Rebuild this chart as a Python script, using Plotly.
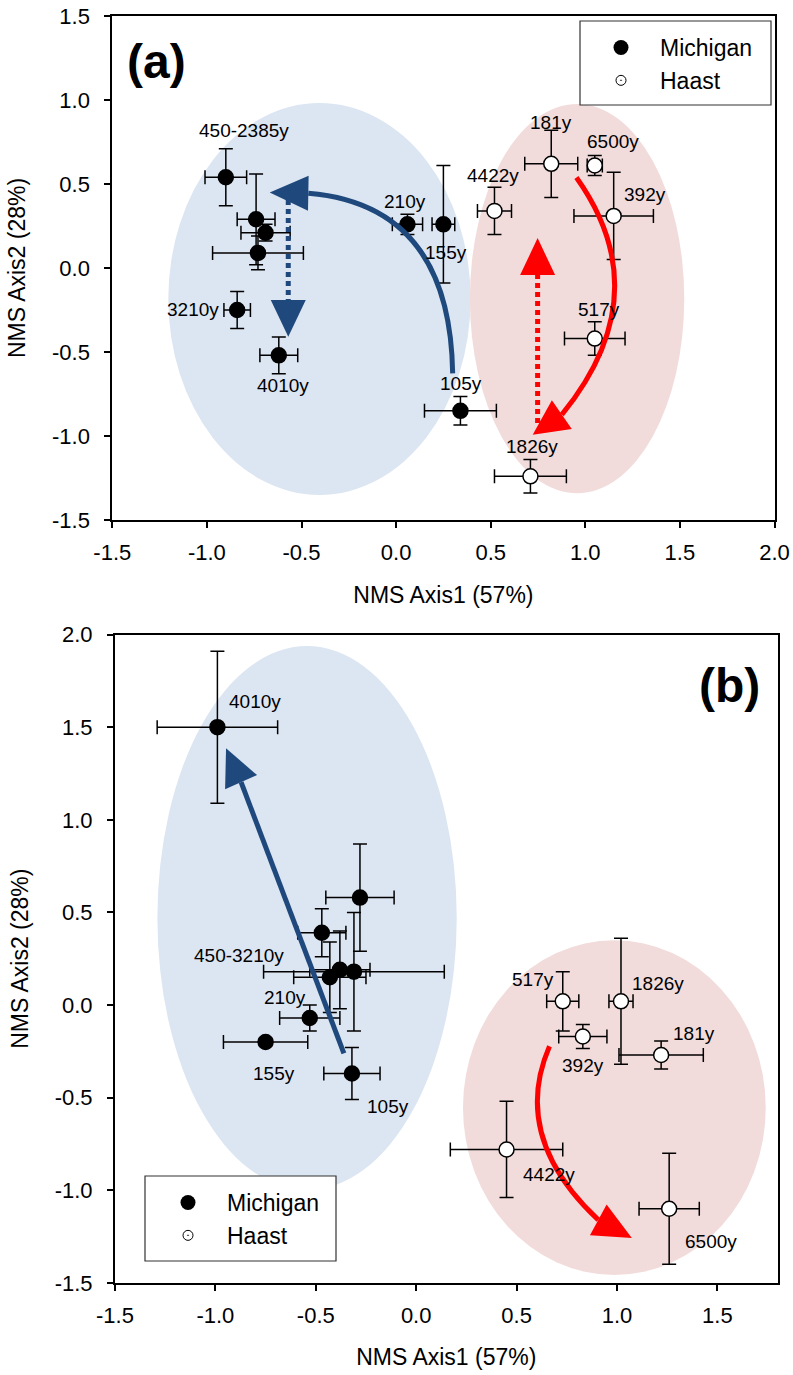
import math
import plotly.graph_objects as go

W, H = 793, 1375
FONT = "Arial, 'Liberation Sans', sans-serif"

# ---------------- DATA ----------------
# Panel (a)
mi_a_x = [-0.90, -0.74, -0.69, -0.73, -0.84, -0.62, 0.06, 0.25, 0.34]
mi_a_y = [0.54, 0.29, 0.21, 0.09, -0.25, -0.52, 0.26, 0.26, -0.85]
mi_a_xerr = [0.11, 0.10, 0.13, 0.24, 0.07, 0.10, 0.08, 0.06, 0.19]
mi_a_yerr = [0.17, 0.27, 0.05, 0.10, 0.11, 0.11, 0.06, 0.35, 0.085]
mi_a_lab = ["450-2385y", "", "", "", "3210y", "4010y", "210y", "155y", "105y"]

ha_a_x = [0.52, 0.82, 1.05, 1.15, 1.05, 0.71]
ha_a_y = [0.34, 0.62, 0.61, 0.31, -0.42, -1.24]
ha_a_xerr = [0.09, 0.14, 0.04, 0.21, 0.16, 0.19]
ha_a_yerr = [0.14, 0.20, 0.06, 0.26, 0.10, 0.10]
ha_a_lab = ["4422y", "181y", "6500y", "392y", "517y", "1826y"]

# Panel (b)
mi_b_x = [-0.99, -0.28, -0.47, -0.43, -0.38, -0.31, -0.53, -0.75, -0.32]
mi_b_y = [1.50, 0.58, 0.39, 0.15, 0.19, 0.18, -0.07, -0.20, -0.37]
mi_b_xerr = [0.30, 0.17, 0.12, 0.18, 0.15, 0.45, 0.15, 0.21, 0.14]
mi_b_yerr = [0.41, 0.29, 0.13, 0.19, 0.21, 0.32, 0.07, 0.02, 0.14]
mi_b_lab = ["4010y", "", "", "450-3210y", "", "", "210y", "155y", "105y"]

ha_b_x = [0.73, 0.83, 1.02, 1.22, 0.45, 1.26]
ha_b_y = [0.02, -0.17, 0.02, -0.27, -0.78, -1.10]
ha_b_xerr = [0.08, 0.12, 0.06, 0.21, 0.28, 0.15]
ha_b_yerr = [0.16, 0.065, 0.34, 0.075, 0.26, 0.30]
ha_b_lab = ["517y", "392y", "1826y", "181y", "4422y", "6500y"]

x_ticks_a = [-1.5, -1.0, -0.5, 0.0, 0.5, 1.0, 1.5, 2.0]
x_text_a = ["-1.5", "-1.0", "-0.5", "0.0", "0.5", "1.0", "1.5", "2.0"]
y_ticks_a = [-1.5, -1.0, -0.5, 0.0, 0.5, 1.0, 1.5]
y_text_a = ["-1.5", "-1.0", "-0.5", "0.0", "0.5", "1.0", "1.5"]
x_ticks_b = [-1.5, -1.0, -0.5, 0.0, 0.5, 1.0, 1.5]
x_text_b = ["-1.5", "-1.0", "-0.5", "0.0", "0.5", "1.0", "1.5"]
y_ticks_b = [-1.5, -1.0, -0.5, 0.0, 0.5, 1.0, 1.5, 2.0]
y_text_b = ["-1.5", "-1.0", "-0.5", "0.0", "0.5", "1.0", "1.5", "2.0"]

# ---------------- STYLE / LAYOUT ----------------
# label offsets (px) relative to their point (dx, dy up)
mi_a_off = [(18, 47), None, None, None, (-44, 1), (4, -30), (-2, 23), (3, -28), (1, 27)]
ha_a_off = [(-1, 35), (0, 41), (18, 24), (31, 21), (4, 29), (2, 30)]
mi_b_off = [(38, 26), None, None, (-91, 22), None, None, (-25, 20), (8, -31), (36, -33)]
ha_b_off = [(-30, 22), (0, -29), (37, 18), (33, 22), (42, -25), (42, -33)]

PA = dict(l=112.3, r=774.5, t=16, b=520, xr=(-1.5, 2.0), yr=(-1.5, 1.5), xref="x", yref="y")
PB = dict(l=115, r=777.6, t=634.6, b=1282.8, xr=(-1.5, 1.8), yr=(-1.5, 2.0), xref="x2", yref="y2")

BLUE_FILL = "#dce6f2"
RED_FILL = "#f2dcdb"
BLUE = "#1f497d"
RED = "#ff0000"


def scale(p):
    sx = (p["r"] - p["l"]) / (p["xr"][1] - p["xr"][0])
    sy = (p["b"] - p["t"]) / (p["yr"][1] - p["yr"][0])
    return sx, sy


def head_shape(p, tip, base, color, half=17.5):
    sx, sy = scale(p)
    dxp = (tip[0] - base[0]) * sx
    dyp = -(tip[1] - base[1]) * sy
    L = math.hypot(dxp, dyp)
    ux, uy = dxp / L, dyp / L
    px, py = -uy * half, ux * half
    v1 = (base[0] + px / sx, base[1] - py / sy)
    v2 = (base[0] - px / sx, base[1] + py / sy)
    path = f"M {tip[0]},{tip[1]} L {v1[0]},{v1[1]} L {v2[0]},{v2[1]} Z"
    return dict(type="path", path=path, xref=p["xref"], yref=p["yref"],
                fillcolor=color, line=dict(width=0), layer="above")


def curve_shape(p, s, c, e, color, width=5):
    path = f"M {s[0]},{s[1]} Q {c[0]},{c[1]} {e[0]},{e[1]}"
    return dict(type="path", path=path, xref=p["xref"], yref=p["yref"],
                fillcolor="rgba(0,0,0,0)", line=dict(color=color, width=width), layer="above")


def line_shape(p, s, e, color, width=5, dash="solid"):
    return dict(type="line", x0=s[0], y0=s[1], x1=e[0], y1=e[1], xref=p["xref"], yref=p["yref"],
                line=dict(color=color, width=width, dash=dash), layer="above")


def ellipse(p, x0, x1, y0, y1, color):
    return dict(type="circle", x0=x0, x1=x1, y0=y0, y1=y1, xref=p["xref"], yref=p["yref"],
                fillcolor=color, line=dict(width=0), layer="below")


fig = go.Figure()


def add_points(xs, ys, xe, ye, filled, xa, ya):
    fig.add_trace(go.Scatter(
        x=xs, y=ys, mode="markers", xaxis=xa, yaxis=ya, showlegend=False,
        marker=dict(size=15, color="black" if filled else "white",
                    line=dict(color="black", width=1.5)),
        error_x=dict(type="data", array=xe, color="black", thickness=1.5, width=7),
        error_y=dict(type="data", array=ye, color="black", thickness=1.5, width=7),
    ))


add_points(mi_a_x, mi_a_y, mi_a_xerr, mi_a_yerr, True, "x", "y")
add_points(ha_a_x, ha_a_y, ha_a_xerr, ha_a_yerr, False, "x", "y")
add_points(mi_b_x, mi_b_y, mi_b_xerr, mi_b_yerr, True, "x2", "y2")
add_points(ha_b_x, ha_b_y, ha_b_xerr, ha_b_yerr, False, "x2", "y2")

# legend-only traces
for lg, xa, ya in [("legend", "x", "y"), ("legend2", "x2", "y2")]:
    fig.add_trace(go.Scatter(x=[None], y=[None], mode="markers", name="Michigan", legend=lg,
                             xaxis=xa, yaxis=ya,
                             marker=dict(size=15, color="black", symbol="circle")))
    fig.add_trace(go.Scatter(x=[None], y=[None], mode="markers", name="Haast", legend=lg,
                             xaxis=xa, yaxis=ya,
                             marker=dict(size=10, color="black", symbol="circle-open-dot",
                                         line=dict(width=1))))

annotations = []


def add_labels(xs, ys, labs, offs, p):
    for x, y, t, o in zip(xs, ys, labs, offs):
        if not t or o is None:
            continue
        annotations.append(dict(x=x, y=y, xref=p["xref"], yref=p["yref"], text=t,
                                showarrow=False, xshift=o[0], yshift=o[1],
                                xanchor="center", yanchor="middle",
                                font=dict(size=19, color="black", family=FONT)))


add_labels(mi_a_x, mi_a_y, mi_a_lab, mi_a_off, PA)
add_labels(ha_a_x, ha_a_y, ha_a_lab, ha_a_off, PA)
add_labels(mi_b_x, mi_b_y, mi_b_lab, mi_b_off, PB)
add_labels(ha_b_x, ha_b_y, ha_b_lab, ha_b_off, PB)

annotations.append(dict(x=156 / W, y=1 - 62 / H, xref="paper", yref="paper", text="<b>(a)</b>",
                        showarrow=False, xanchor="center", yanchor="middle",
                        font=dict(size=48, color="black", family=FONT)))
annotations.append(dict(x=729 / W, y=1 - 685 / H, xref="paper", yref="paper", text="<b>(b)</b>",
                        showarrow=False, xanchor="center", yanchor="middle",
                        font=dict(size=48, color="black", family=FONT)))

shapes = [
    ellipse(PA, -1.204, 0.394, -1.351, 0.982, BLUE_FILL),
    ellipse(PA, 0.39, 1.523, -1.341, 0.976, RED_FILL),
    ellipse(PB, -1.289, 0.202, -0.999, 1.938, BLUE_FILL),
    ellipse(PB, 0.233, 1.741, -1.458, 0.349, RED_FILL),
    # panel (a) arrows
    curve_shape(PA, (0.299, -0.627), (0.285, 0.375), (-0.464, 0.445), BLUE),
    head_shape(PA, (-0.668, 0.449), (-0.464, 0.445), BLUE),
    line_shape(PA, (-0.570, 0.405), (-0.570, -0.190), BLUE, dash="5px,4px"),
    head_shape(PA, (-0.570, -0.409), (-0.570, -0.190), BLUE),
    curve_shape(PA, (0.953, 0.539), (1.393, -0.158), (0.876, -0.873), RED),
    head_shape(PA, (0.722, -0.993), (0.876, -0.873), RED),
    line_shape(PA, (0.748, -0.923), (0.748, -0.042), RED, dash="5px,4px"),
    head_shape(PA, (0.748, 0.178), (0.748, -0.042), RED),
    # panel (b) arrows
    line_shape(PB, (-0.360, -0.261), (-0.872, 1.203), BLUE),
    head_shape(PB, (-0.947, 1.386), (-0.872, 1.203), BLUE),
    curve_shape(PB, (0.664, -0.223), (0.468, -0.713), (0.907, -1.160), RED),
    head_shape(PB, (1.074, -1.258), (0.907, -1.160), RED),
    # legend boxes
    dict(type="rect", xref="paper", yref="paper", x0=580 / W, x1=771 / W,
         y0=1 - 105 / H, y1=1 - 21 / H, line=dict(color="#333333", width=1.2),
         fillcolor="white", layer="above"),
    dict(type="rect", xref="paper", yref="paper", x0=145 / W, x1=336 / W,
         y0=1 - 1261 / H, y1=1 - 1176 / H, line=dict(color="#333333", width=1.2),
         fillcolor="white", layer="above"),
]


def axis(p, horiz, tv, tt, title, anchor):
    d = dict(
        range=list(p["xr"] if horiz else p["yr"]),
        domain=[p["l"] / W, p["r"] / W] if horiz else [1 - p["b"] / H, 1 - p["t"] / H],
        tickvals=tv, ticktext=tt, ticks="outside", ticklen=6, tickwidth=1.5, tickcolor="black",
        showline=True, linewidth=2, linecolor="black", mirror=True,
        showgrid=False, zeroline=False, anchor=anchor, automargin=False,
        tickfont=dict(size=22, color="black", family=FONT),
        title=dict(text=title, font=dict(size=23, color="black", family=FONT),
                   standoff=22 if horiz else 20),
        ticklabelstandoff=10 if not horiz else 6,
        fixedrange=True,
    )
    return d


fig.update_layout(
    width=W, height=H,
    margin=dict(l=0, r=0, t=0, b=0, autoexpand=False),
    paper_bgcolor="white", plot_bgcolor="white",
    font=dict(family=FONT, color="black"),
    xaxis=axis(PA, True, x_ticks_a, x_text_a, "NMS Axis1 (57%)", "y"),
    yaxis=axis(PA, False, y_ticks_a, y_text_a, "NMS Axis2 (28%)", "x"),
    xaxis2=axis(PB, True, x_ticks_b, x_text_b, "NMS Axis1 (57%)", "y2"),
    yaxis2=axis(PB, False, y_ticks_b, y_text_b, "NMS Axis2 (28%)", "x2"),
    shapes=shapes,
    annotations=annotations,
    legend=dict(x=582 / W, y=1 - 26 / H, xanchor="left", yanchor="top", itemwidth=68,
                bgcolor="rgba(0,0,0,0)", borderwidth=0,
                font=dict(size=23, color="black", family=FONT), tracegroupgap=0),
    legend2=dict(x=149 / W, y=1 - 1181 / H, xanchor="left", yanchor="top", itemwidth=68,
                 bgcolor="rgba(0,0,0,0)", borderwidth=0,
                 font=dict(size=23, color="black", family=FONT), tracegroupgap=0),
)

fig.write_html("out.html")
